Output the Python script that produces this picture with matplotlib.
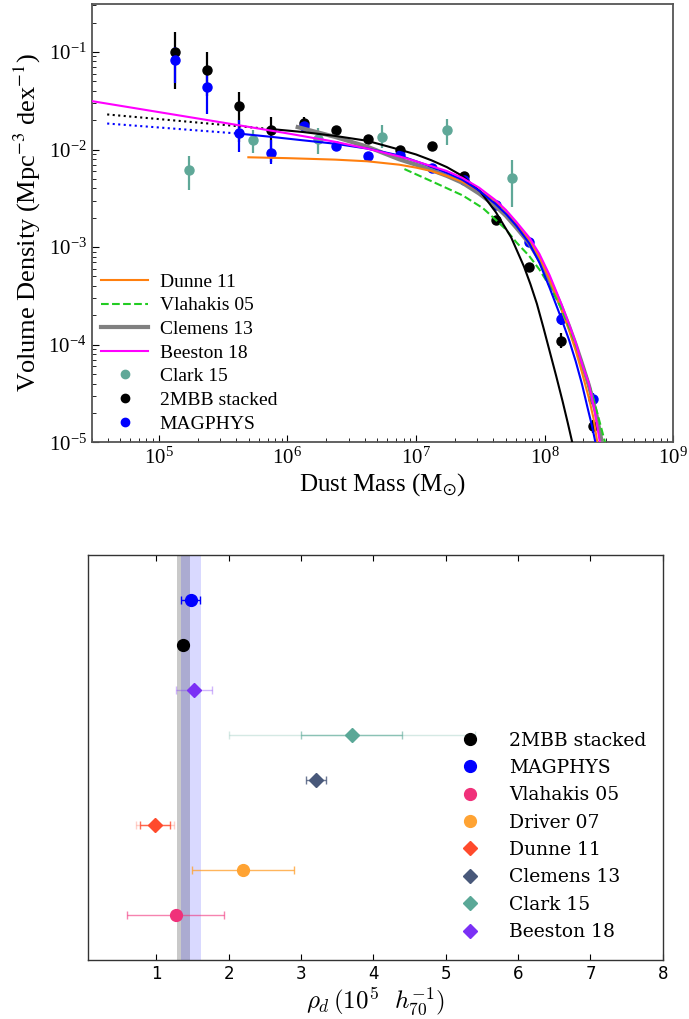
import matplotlib
matplotlib.use("Agg")
import matplotlib.pyplot as plt
from matplotlib.lines import Line2D
import numpy as np

plt.rcParams['font.family'] = 'serif'
plt.rcParams['font.serif'] = ['Liberation Serif', 'DejaVu Serif']
plt.rcParams['mathtext.fontset'] = 'stix'

# ---------------- top panel: dust mass function ----------------
# bin centres (log10 Msun) shared by the 2MBB and MAGPHYS points
logm_bins = [5.125, 5.375, 5.625, 5.875, 6.125, 6.375, 6.625, 6.875,
             7.125, 7.375, 7.625, 7.875, 8.125, 8.375]

phi_2mbb = [0.100, 0.065, 0.028, 0.0159, 0.0189, 0.0157, 0.0129, 0.0100,
            0.0110, 0.0053, 0.0019, 6.3e-4, 1.10e-4, 1.46e-5]
lo_2mbb = [0.042, 0.035, 0.012, 0.0075, 0.0170, 0.0150, 0.0124, 0.0096,
           0.0106, 0.0051, 0.0018, 5.9e-4, 0.92e-4, 1.25e-5]
hi_2mbb = [0.160, 0.099, 0.039, 0.0218, 0.0215, 0.0165, 0.0134, 0.0104,
           0.0114, 0.0055, 0.0020, 6.7e-4, 1.32e-4, 1.70e-5]

phi_magphys = [0.083, 0.0436, 0.0147, 0.0093, 0.0174, 0.0110, 0.00865, 0.00878,
               0.0064, 0.0049, 0.0027, 0.00113, 1.84e-4, 2.77e-5]
lo_magphys = [0.048, 0.023, 0.0094, 0.0071, 0.0160, 0.0104, 0.0082, 0.0084,
              0.0061, 0.0047, 0.0026, 0.00107, 1.60e-4, 2.40e-5]
hi_magphys = [0.113, 0.063, 0.020, 0.0125, 0.0190, 0.0116, 0.0091, 0.0092,
              0.0067, 0.0051, 0.0028, 0.00119, 2.10e-4, 3.20e-5]

logm_clark = [5.232, 5.733, 6.236, 6.739, 7.243, 7.743]
phi_clark = [0.00615, 0.01253, 0.0127, 0.01355, 0.0157, 0.00516]
lo_clark = [0.00383, 0.0093, 0.0091, 0.0103, 0.0111, 0.00258]
hi_clark = [0.00865, 0.0159, 0.0166, 0.0179, 0.0204, 0.0078]

# fitted curves (log10 M, log10 phi)
fit2mbb_logm = [5.877, 6.12, 6.37, 6.62, 6.87, 7.0, 7.12, 7.24, 7.36, 7.50, 7.62,
                7.74, 7.84, 7.89, 7.94, 7.99, 8.04, 8.09, 8.14, 8.18, 8.215]
fit2mbb_logphi = [-1.79, -1.82, -1.86, -1.91, -2.00, -2.05, -2.11, -2.18, -2.27,
                  -2.43, -2.64, -2.90, -3.20, -3.38, -3.58, -3.82, -4.07, -4.32,
                  -4.58, -4.80, -5.0]
ext2mbb_logm = [4.598, 5.877]
ext2mbb_logphi = [-1.640, -1.791]

fitmag_logm = [5.619, 5.877, 6.12, 6.37, 6.62, 6.87, 7.0, 7.13, 7.26, 7.36, 7.49,
               7.62, 7.70, 7.78, 7.88, 7.96, 8.04, 8.127, 8.19, 8.242, 8.29,
               8.335, 8.37, 8.395]
fitmag_logphi = [-1.836, -1.87, -1.905, -1.94, -1.99, -2.06, -2.12, -2.18, -2.25,
                 -2.31, -2.42, -2.56, -2.66, -2.78, -2.96, -3.16, -3.42, -3.72,
                 -3.95, -4.17, -4.40, -4.65, -4.84, -5.0]
extmag_logm = [4.598, 5.619]
extmag_logphi = [-1.733, -1.836]

beeston_logm = [4.482, 5.0, 5.5, 6.0, 6.37, 6.62, 6.87, 7.0, 7.12, 7.24, 7.36,
                7.49, 7.62, 7.70, 7.78, 7.88, 7.96, 8.04, 8.127, 8.19, 8.242,
                8.29, 8.345, 8.39, 8.43]
beeston_logphi = [-1.504, -1.616, -1.724, -1.834, -1.92, -1.99, -2.07, -2.12,
                  -2.17, -2.22, -2.29, -2.39, -2.52, -2.62, -2.74, -2.90, -3.07,
                  -3.29, -3.57, -3.79, -3.98, -4.19, -4.40, -4.68, -5.0]

dunne_logm = [5.696, 6.0, 6.37, 6.62, 6.87, 7.0, 7.12, 7.24, 7.36, 7.49, 7.62,
              7.70, 7.78, 7.88, 7.96, 8.04, 8.127, 8.19, 8.242, 8.29, 8.345,
              8.38, 8.41]
dunne_logphi = [-2.079, -2.088, -2.103, -2.12, -2.155, -2.185, -2.22, -2.27,
                -2.33, -2.42, -2.53, -2.63, -2.76, -2.92, -3.10, -3.33, -3.62,
                -3.85, -4.06, -4.28, -4.55, -4.75, -5.0]

clemens_logm = [6.08, 6.37, 6.62, 6.87, 7.0, 7.12, 7.24, 7.36, 7.49, 7.62, 7.70,
                7.78, 7.88, 7.96, 8.04, 8.127, 8.19, 8.242, 8.29, 8.345, 8.40,
                8.445]
clemens_logphi = [-1.77, -1.87, -1.97, -2.10, -2.155, -2.21, -2.27, -2.34, -2.45,
                  -2.58, -2.68, -2.80, -2.96, -3.13, -3.34, -3.60, -3.81, -4.00,
                  -4.19, -4.42, -4.70, -5.0]

vlahakis_logm = [6.91, 7.13, 7.363, 7.52, 7.62, 7.70, 7.78, 7.88, 7.96, 8.04,
                 8.127, 8.19, 8.242, 8.29, 8.345, 8.41, 8.47]
vlahakis_logphi = [-2.20, -2.33, -2.47, -2.60, -2.72, -2.82, -2.95, -3.09, -3.23,
                   -3.40, -3.62, -3.82, -4.00, -4.18, -4.40, -4.70, -5.0]

# ---------------- bottom panel: dust mass density ----------------
names = ['2MBB stacked', 'MAGPHYS', 'Vlahakis 05', 'Driver 07',
         'Dunne 11', 'Clemens 13', 'Clark 15', 'Beeston 18']
rho_d = [1.37, 1.475, 1.27, 2.20, 0.98, 3.21, 3.70, 1.52]
rho_err = [0.06, 0.13, 0.67, 0.71, 0.21, 0.14, 0.70, 0.25]
rho_err_outer = [0, 0, 0, 0, 0.26, 0, 1.70, 0]
row_order = ['Vlahakis 05', 'Driver 07', 'Dunne 11', 'Clemens 13',
             'Clark 15', 'Beeston 18', '2MBB stacked', 'MAGPHYS']   # bottom to top
band_2mbb = (1.29, 1.47)
band_magphys = (1.34, 1.62)

colors = {'2MBB stacked': 'black', 'MAGPHYS': 'blue', 'Vlahakis 05': '#f0317a',
          'Driver 07': '#ffa333', 'Dunne 11': '#ff4a2c', 'Clemens 13': '#48587a',
          'Clark 15': '#5aa897', 'Beeston 18': '#7b30f5'}
markers = {'2MBB stacked': 'o', 'MAGPHYS': 'o', 'Vlahakis 05': 'o', 'Driver 07': 'o',
           'Dunne 11': 'D', 'Clemens 13': 'D', 'Clark 15': 'D', 'Beeston 18': 'D'}
bar_alpha = {'2MBB stacked': 1.0, 'MAGPHYS': 1.0, 'Vlahakis 05': 0.6, 'Driver 07': 0.8,
             'Dunne 11': 0.8, 'Clemens 13': 0.8, 'Clark 15': 0.6, 'Beeston 18': 0.35}

fig = plt.figure(figsize=(6.89, 10.19), dpi=100)

# ---------- top ----------
ax = fig.add_axes([0.133, 0.566, 0.844, 0.430])
teal = '#5fa898'


def asym(val, lo, hi):
    val, lo, hi = np.array(val), np.array(lo), np.array(hi)
    return [val - lo, hi - val]


ax.errorbar(10 ** np.array(logm_clark), phi_clark, yerr=asym(phi_clark, lo_clark, hi_clark),
            fmt='o', color=teal, ms=6.5, elinewidth=1.6, capsize=0, zorder=2)
ax.errorbar(10 ** np.array(logm_bins), phi_2mbb, yerr=asym(phi_2mbb, lo_2mbb, hi_2mbb),
            fmt='o', color='black', ms=6.5, elinewidth=1.6, capsize=0, zorder=2)
ax.errorbar(10 ** np.array(logm_bins), phi_magphys, yerr=asym(phi_magphys, lo_magphys, hi_magphys),
            fmt='o', color='blue', ms=6.5, elinewidth=1.6, capsize=0, zorder=2)


def curve(lm, lp, **kw):
    ax.plot(10 ** np.array(lm), 10 ** np.array(lp), zorder=3, **kw)


curve(ext2mbb_logm, ext2mbb_logphi, color='black', ls=':', lw=1.5)
curve(extmag_logm, extmag_logphi, color='blue', ls=':', lw=1.5)
curve(clemens_logm, clemens_logphi, color='gray', lw=3)
curve(dunne_logm, dunne_logphi, color='#ff7f0e', lw=1.5)
curve(vlahakis_logm, vlahakis_logphi, color='#22cc22', ls='--', lw=1.5)
curve(fit2mbb_logm, fit2mbb_logphi, color='black', lw=1.5)
curve(fitmag_logm, fitmag_logphi, color='blue', lw=1.5)
curve(beeston_logm, beeston_logphi, color='magenta', lw=1.5)

ax.set_xscale('log')
ax.set_yscale('log')
ax.set_xlim(3e4, 1e9)
ax.set_ylim(1e-5, 0.31)
ax.set_xlabel(r'Dust Mass (M$_{\odot}$)', fontsize=18, labelpad=2)
ax.set_ylabel(r'Volume Density (Mpc$^{-3}$ dex$^{-1}$)', fontsize=19, labelpad=4)
ax.tick_params(which='both', direction='in', labelsize=15, top=False, right=False)
ax.tick_params(which='major', length=5)
ax.tick_params(which='minor', length=3)
for s in ax.spines.values():
    s.set_color('#555555')
    s.set_linewidth(1.3)

top_handles = [
    Line2D([], [], color='#ff7f0e', lw=1.5),
    Line2D([], [], color='#22cc22', lw=1.5, ls='--'),
    Line2D([], [], color='gray', lw=3),
    Line2D([], [], color='magenta', lw=1.5),
    Line2D([], [], color=teal, marker='o', ls='none', ms=6),
    Line2D([], [], color='black', marker='o', ls='none', ms=6),
    Line2D([], [], color='blue', marker='o', ls='none', ms=6),
]
top_labels = ['Dunne 11', 'Vlahakis 05', 'Clemens 13', 'Beeston 18',
              'Clark 15', '2MBB stacked', 'MAGPHYS']
ax.legend(top_handles, top_labels, loc='lower left', frameon=False, fontsize=14,
          labelspacing=0.31, handlelength=2.4, handletextpad=0.6,
          borderaxespad=0.1, bbox_to_anchor=(0.0, 0.0))

# ---------- bottom ----------
ax2 = fig.add_axes([0.128, 0.058, 0.834, 0.3975])
ax2.axvspan(*band_2mbb, color='gray', alpha=0.42, lw=0, zorder=0)
ax2.axvspan(*band_magphys, color='blue', alpha=0.15, lw=0, zorder=0)

for name, val, err, err2 in zip(names, rho_d, rho_err, rho_err_outer):
    y = row_order.index(name) + 1
    c = colors[name]
    if err2 > 0:
        ax2.errorbar(val, y, xerr=err2, fmt='none', ecolor=c, alpha=0.25,
                     elinewidth=1, capsize=3)
    ax2.errorbar(val, y, xerr=err, fmt='none', ecolor=c, alpha=bar_alpha[name],
                 elinewidth=1, capsize=3)
    ms = 8.5 if markers[name] == 'o' else 7.5
    ax2.plot(val, y, marker=markers[name], color=c, ms=ms, ls='none', label=name)

ax2.set_xlim(0.06, 8)
ax2.set_ylim(0, 9)
ax2.set_yticks([])
ax2.set_xticks(range(1, 9))
ax2.tick_params(axis='x', direction='in', top=True, labelsize=12, length=4)
for lab in ax2.get_xticklabels():
    lab.set_fontfamily('DejaVu Sans')
for s in ax2.spines.values():
    s.set_color('#333333')
    s.set_linewidth(1.0)
ax2.set_xlabel(r'$\rho_d\,(10^5\ \ h_{70}^{-1})$', fontsize=18, math_fontfamily='cm',
               labelpad=2)

leg = ax2.legend(loc='lower right', frameon=False, numpoints=1,
                 prop={'family': 'DejaVu Serif', 'size': 13.5},
                 labelspacing=0.5, handletextpad=1.1, borderaxespad=0.6,
                 bbox_to_anchor=(1.004, 0.0))

fig.savefig('out.png', dpi=100)
